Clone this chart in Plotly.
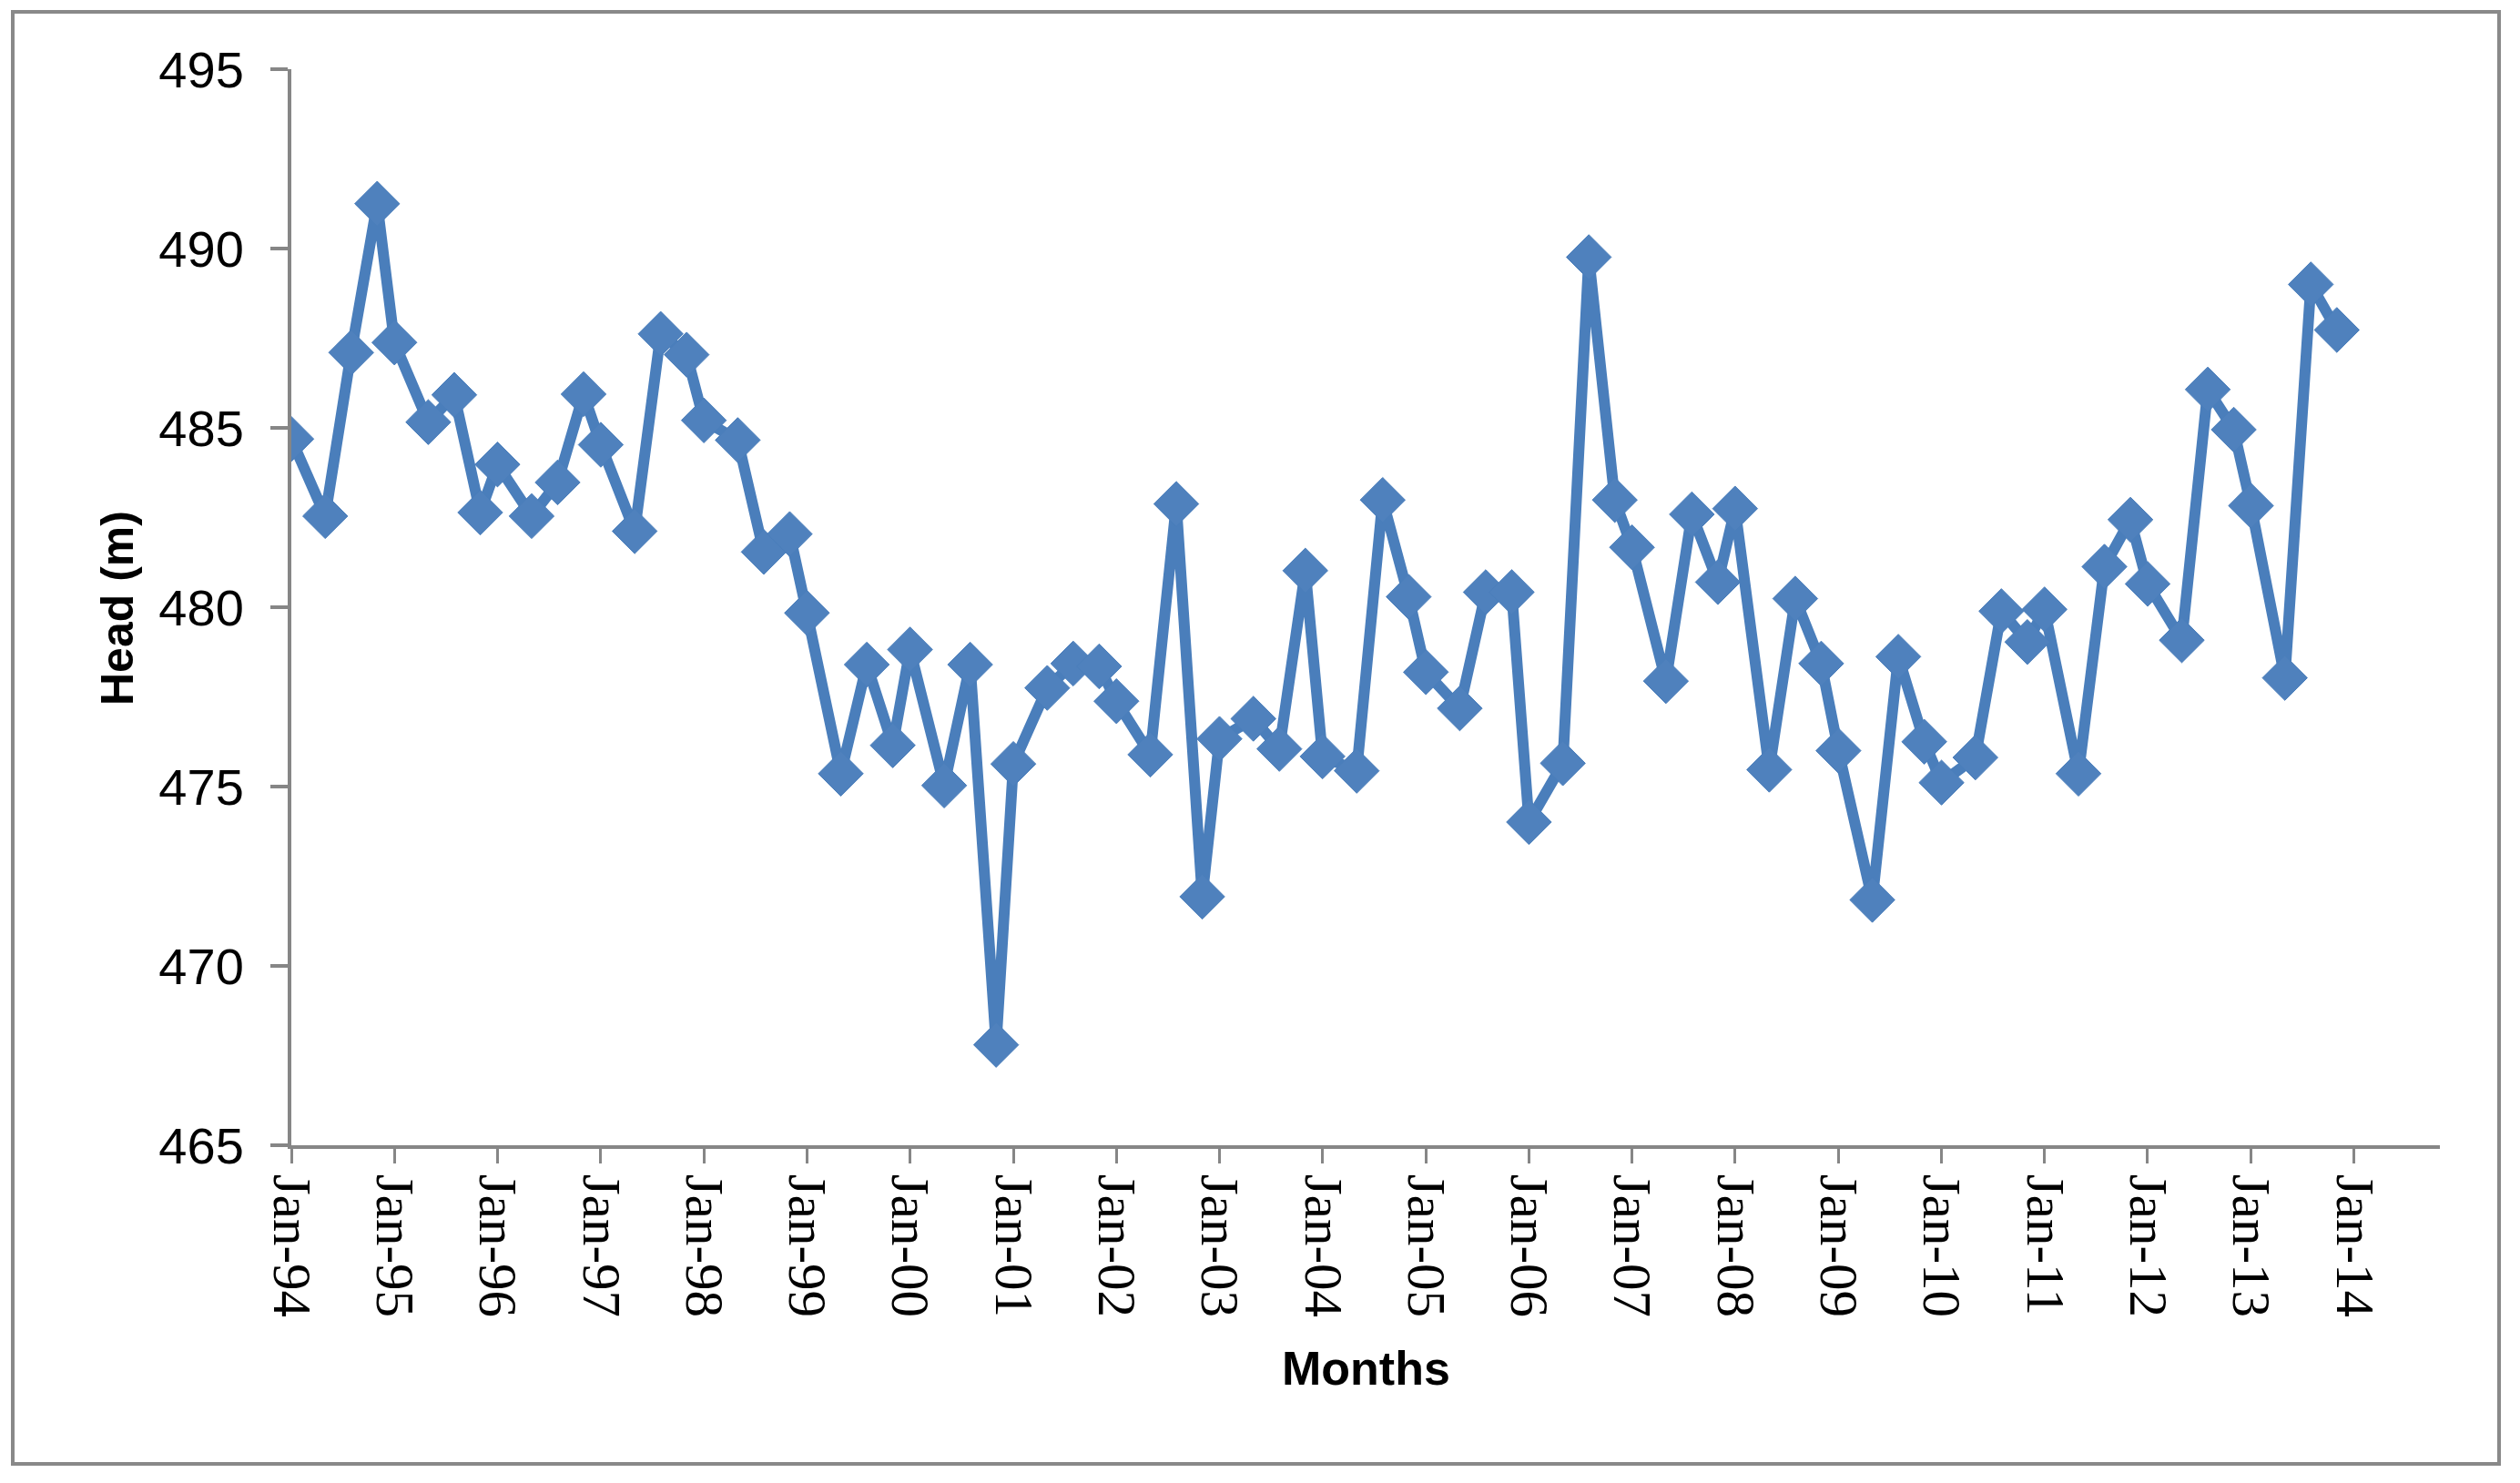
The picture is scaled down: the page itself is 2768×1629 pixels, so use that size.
import plotly.graph_objects as go

# Sampling dates: Jan, May, Aug, Nov of each year 1994-2013
years = list(range(1994, 2014))
months = ["01", "05", "08", "11"]
dates = [f"{y}-{m}-01" for y in years for m in months]

head_m = [
    484.69, 482.54, 487.10, 491.25,   # 1994
    487.38, 485.16, 485.92, 482.64,   # 1995
    483.98, 482.54, 483.48, 485.94,   # 1996
    484.53, 482.12, 487.62, 487.04,   # 1997
    485.21, 484.66, 481.54, 482.04,   # 1998
    479.84, 475.36, 478.40, 476.15,   # 1999
    478.82, 475.03, 478.40, 467.80,   # 2000
    475.63, 477.75, 478.43, 478.35,   # 2001
    477.38, 475.89, 482.88, 471.93,   # 2002
    476.33, 476.89, 476.05, 481.02,   # 2003
    475.84, 475.44, 482.99, 480.29,   # 2004
    478.19, 477.18, 480.42, 480.42,   # 2005
    474.01, 475.65, 489.76, 482.99,   # 2006
    481.67, 477.94, 482.59, 480.70,   # 2007
    482.75, 475.47, 480.24, 478.43,   # 2008
    476.00, 471.84, 478.62, 476.25,   # 2009
    475.11, 475.81, 479.89, 479.03,   # 2010
    479.94, 475.36, 481.13, 482.44,   # 2011
    480.65, 479.08, 486.07, 484.95,   # 2012
    482.83, 478.03, 489.00, 487.73,   # 2013
]

y_range = [465, 495]
y_dtick = 5
x_range = ["1994-01-01", "2014-11-01"]

# page body has an 8px margin, so positions are shifted by -8
OFF = 8
W, H = 2768 - OFF, 1629 - OFF
L, T = 320 - OFF, 76 - OFF
pw, ph = 2360, 1182
R = W - L - pw
B = H - T - ph

fig = go.Figure()
fig.add_trace(go.Scatter(
    x=dates, y=head_m, mode="lines+markers",
    line=dict(color="#4A7EBB", width=12),
    marker=dict(symbol="diamond", size=38, color="#4F81BD",
                line=dict(color="#4A7EBB", width=1)),
    showlegend=False,
))

axis_gray = "#868686"
fig.update_layout(
    width=W, height=H,
    margin=dict(l=L, r=R, t=T, b=B, pad=0),
    paper_bgcolor="white", plot_bgcolor="white",
    xaxis=dict(
        type="date", range=x_range,
        tick0="1994-01-01", dtick="M12", tickformat="%b-%y",
        tickangle=90,
        ticks="outside", ticklen=16, tickwidth=3, tickcolor=axis_gray,
        showline=True, linecolor=axis_gray, linewidth=4,
        showgrid=False, zeroline=False,
        tickfont=dict(family="Liberation Serif", size=59, color="black"),
        ticklabelstandoff=0,
    ),
    yaxis=dict(
        range=y_range, dtick=y_dtick,
        ticks="outside", ticklen=19, tickwidth=4, tickcolor=axis_gray,
        showline=True, linecolor=axis_gray, linewidth=4,
        showgrid=False, zeroline=False,
        tickfont=dict(family="Liberation Sans", size=56, color="black"),
        ticklabelstandoff=18,
    ),
)

# Helpers mapping reference-image pixels to paper coordinates
def px_to_paper_x(px):
    return (px - OFF - L) / pw

def px_to_paper_y(py):
    return (H + OFF - B - py) / ph

fig.add_annotation(
    text="<b>Head (m)</b>", x=px_to_paper_x(129), y=px_to_paper_y(668),
    xref="paper", yref="paper", showarrow=False, textangle=-90,
    font=dict(family="Liberation Sans", size=50, color="black"),
    xanchor="center", yanchor="middle",
)
fig.add_annotation(
    text="<b>Months</b>", x=px_to_paper_x(1500), y=px_to_paper_y(1503),
    xref="paper", yref="paper", showarrow=False,
    font=dict(family="Liberation Sans", size=52, color="black"),
    xanchor="center", yanchor="middle",
)

# Outer chart frame
fig.add_shape(
    type="rect", xref="paper", yref="paper",
    x0=px_to_paper_x(14), x1=px_to_paper_x(2745),
    y0=px_to_paper_y(1608), y1=px_to_paper_y(13),
    line=dict(color="#898989", width=4), fillcolor="rgba(0,0,0,0)",
    layer="below",
)

fig.write_html("out.html")
